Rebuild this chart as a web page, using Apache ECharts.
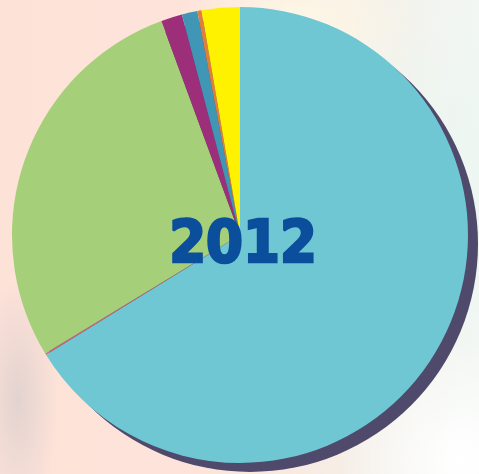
<!DOCTYPE html>
<html>
<head>
<meta charset="utf-8">
<script src="https://cdn.jsdelivr.net/npm/echarts@6/dist/echarts.min.js"></script>
<style>
html,body{margin:0;padding:0;width:479px;height:474px;overflow:hidden;}
body{
  background:
    radial-gradient(ellipse 40px 120px at 18px 400px, rgba(222,208,206,0.85), rgba(222,208,206,0) 100%),
    radial-gradient(ellipse 160px 180px at 440px 180px, rgba(236,246,240,1), rgba(236,246,240,0) 100%),
    radial-gradient(ellipse 120px 90px at 300px 30px, rgba(254,248,230,1), rgba(254,248,230,0) 100%),
    radial-gradient(ellipse 120px 120px at 460px 460px, rgba(255,255,255,1), rgba(255,255,255,0) 100%),
    linear-gradient(90deg, #fde2d8 0%, #fde4da 45%, #f4f1ea 80%, #f2f7f4 100%);
}
#chart{width:479px;height:474px;}
</style>
</head>
<body>
<div id="chart"></div>
<script>
const categories = ["A", "B", "C", "D", "E", "F", "G"];
const values = [66.2, 0.1, 28.1, 1.5, 1.1, 0.3, 2.7];
const colors = ["#6ec7d2", "#d9607a", "#a5cf78", "#9c2e7a", "#3f96b5", "#e07f3a", "#fff200"];
const yearLabel = "2012";

const chart = echarts.init(document.getElementById('chart'), null, {renderer: 'canvas'});
chart.setOption({
  animation: false,
  backgroundColor: 'transparent',
  graphic: [{
    type: 'text',
    x: 243,
    y: 247,
    z: 100,
    style: {
      text: yearLabel,
      fill: '#0b4f9c',
      stroke: '#0b4f9c',
      lineWidth: 2.5,
      font: 'bold 59px "DejaVu Sans Condensed", "Liberation Sans Narrow", sans-serif',
      textAlign: 'center',
      textVerticalAlign: 'middle'
    }
  }],
  series: [
    {
      type: 'pie',
      silent: true,
      center: [250, 244],
      radius: 228,
      label: {show: false},
      labelLine: {show: false},
      data: [{value: 1, itemStyle: {color: '#4f4a6b'}}]
    },
    {
      type: 'pie',
      silent: true,
      center: [240, 235],
      radius: 228,
      startAngle: 90,
      clockwise: true,
      label: {show: false},
      labelLine: {show: false},
      itemStyle: {borderWidth: 0},
      data: categories.map((c, i) => ({name: c, value: values[i], itemStyle: {color: colors[i]}}))
    }
  ]
});
</script>
</body>
</html>
